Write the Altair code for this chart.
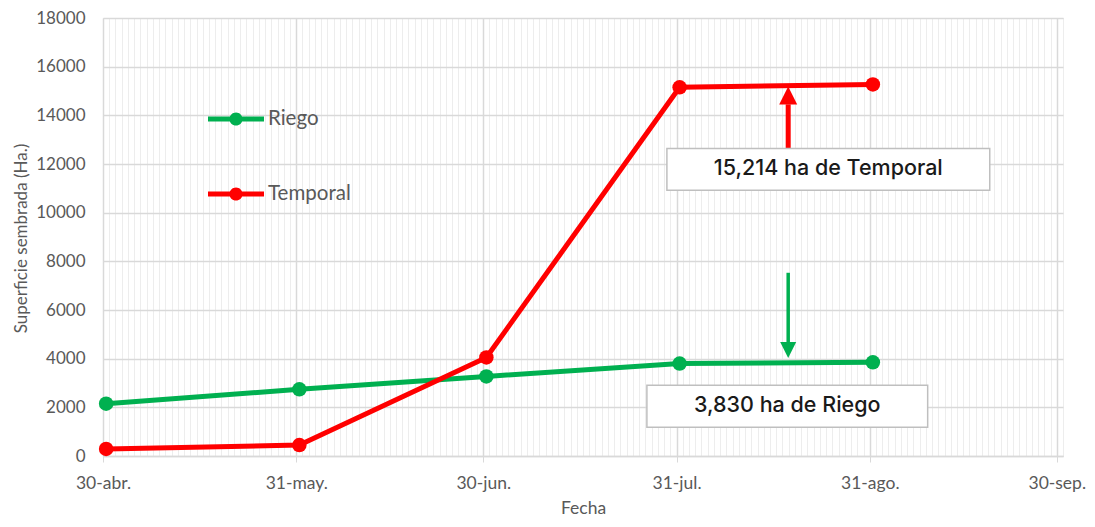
import altair as alt
import pandas as pd

# ---- data ----
FECHAS = ["2021-04-30", "2021-05-31", "2021-06-30", "2021-07-31", "2021-08-31"]
RIEGO = [2150, 2740, 3270, 3800, 3850]
TEMPORAL = [290, 450, 4050, 15150, 15270]
SERIES = ["Riego", "Temporal"]
COLORES = ["#00b050", "#ff0000"]

TICK_FECHAS = ["2021-04-30", "2021-05-31", "2021-06-30", "2021-07-31", "2021-08-31", "2021-09-30"]
MESES = ["ene.", "feb.", "mar.", "abr.", "may.", "jun.", "jul.", "ago.", "sep.", "oct.", "nov.", "dic."]
Y_TICKS = [0, 2000, 4000, 6000, 8000, 10000, 12000, 14000, 16000, 18000]

# annotations (data units)
ANOT_TEXTO = ["15,214 ha de Temporal", "3,830 ha de Riego"]
ANOT_SERIE = ["Temporal", "Riego"]
CAJA_X1 = ["2021-07-29T11:00:00", "2021-07-26T06:00:00"]
CAJA_X2 = ["2021-09-19T06:00:00", "2021-09-09T07:00:00"]
CAJA_Y1 = [12641, 2905]
CAJA_Y2 = [10923, 1186]
FLECHA_X = "2021-08-17T22:00:00"
FLECHA_BASE = [12641, 7530]
FLECHA_CUELLO = [14450, 4650]
FLECHA_PUNTA = [15180, 4030]

GRAY_TXT = "#595959"
GRID = "#d9d9d9"

# ---- tables ----
fechas_mid = [f + "T12:00:00" for f in FECHAS]
df = pd.DataFrame({
    "fecha": fechas_mid * 2,
    "valor": RIEGO + TEMPORAL,
    "serie": [SERIES[0]] * len(FECHAS) + [SERIES[1]] * len(FECHAS),
})

cajas = pd.DataFrame({
    "x1": CAJA_X1, "x2": CAJA_X2, "y1": CAJA_Y1, "y2": CAJA_Y2, "texto": ANOT_TEXTO,
})
cajas["xm"] = (pd.to_datetime(cajas["x1"]) + (pd.to_datetime(cajas["x2"]) - pd.to_datetime(cajas["x1"])) / 2).dt.strftime("%Y-%m-%dT%H:%M:%S")
cajas["ym"] = (cajas["y1"] + cajas["y2"]) / 2

flechas = pd.DataFrame({
    "x": [FLECHA_X] * 2, "base": FLECHA_BASE, "cuello": FLECHA_CUELLO,
    "punta": FLECHA_PUNTA, "serie": ANOT_SERIE,
})

# ---- scales / axes ----
x_scale = alt.Scale(domain=[alt.DateTime(year=2021, month=4, date=30),
                            alt.DateTime(year=2021, month=10, date=1)], nice=False)
y_scale = alt.Scale(domain=[0, 18000], nice=False)
color_scale = alt.Scale(domain=SERIES, range=COLORES)

is_major = "indexof([" + ",".join(f"'{d}'" for d in TICK_FECHAS) + "], timeFormat(datum.value, '%Y-%m-%d')) >= 0"

x_axis = alt.Axis(
    tickCount={"interval": "day", "step": 1},
    labelExpr=f"({is_major}) ? date(datum.value) + '-' + {MESES}[month(datum.value)] : ''",
    labelOverlap=False, labelFlush=False,
    labelFont="Lato", labelFontSize=17.5, labelColor=GRAY_TXT, labelPadding=12,
    grid=True,
    gridColor={"condition": {"test": is_major, "value": GRID}, "value": "#ededed"},
    gridWidth={"condition": {"test": is_major, "value": 1.5}, "value": 1},
    ticks=True, tickSize=6, tickColor=GRID,
    tickOpacity={"condition": {"test": is_major, "value": 1}, "value": 0},
    domain=True, domainColor=GRID, domainWidth=1.5,
    title="Fecha", titleFont="Lato", titleFontSize=17.5, titleFontWeight="normal",
    titleColor=GRAY_TXT, titleY=52, titleBaseline="middle",
)
y_axis = alt.Axis(
    values=Y_TICKS, format="d", grid=True, gridColor=GRID, gridWidth=1.5,
    domain=False, ticks=False, labelPadding=18,
    labelFont="Lato", labelFontSize=17, labelColor=GRAY_TXT,
    title="Superficie sembrada (Ha.)", titleFont="Lato", titleFontSize=17,
    titleFontWeight="normal", titleColor=GRAY_TXT,
    titleX=-82, titleY=220, titleAngle=270, titleAlign="center", titleBaseline="middle",
)

LEG_PATH = ("M-1.75,-0.16H1.75V0.16H-1.75Z "
            "M0,-0.41A0.41,0.41 0 1,1 0,0.41A0.41,0.41 0 1,1 0,-0.41Z")
legend = alt.Legend(
    orient="none", legendX=117, legendY=85, title=None, padding=0,
    direction="vertical", symbolType=LEG_PATH, symbolSize=1024,
    symbolStrokeWidth=0, symbolOpacity=1, labelOffset=16, rowPadding=48,
    labelFont="Lato", labelFontSize=20.5, labelColor=GRAY_TXT,
)


def X(field):
    return alt.X(field, scale=x_scale, axis=x_axis)


def Y(field):
    return alt.Y(field, scale=y_scale, axis=y_axis)


base = alt.Chart(df)

lines = base.mark_line(strokeWidth=5).encode(
    x=X("fecha:T"), y=Y("valor:Q"),
    color=alt.Color("serie:N", scale=color_scale, legend=legend),
)

points = base.mark_circle(size=210, opacity=1).encode(
    x=X("fecha:T"), y=Y("valor:Q"),
    color=alt.Color("serie:N", scale=color_scale, legend=legend),
)

fl = alt.Chart(flechas)
shaft_red = fl.transform_filter("datum.serie == 'Temporal'").mark_rule(
    strokeWidth=5, color=COLORES[1]).encode(x=X("x:T"), y=Y("base:Q"), y2="cuello:Q")
shaft_green = fl.transform_filter("datum.serie == 'Riego'").mark_rule(
    strokeWidth=3.5, color=COLORES[0]).encode(x=X("x:T"), y=Y("base:Q"), y2="cuello:Q")
head_red = fl.transform_filter("datum.serie == 'Temporal'").mark_point(
    shape="M0,0L1,2L-1,2Z", size=324, filled=True, opacity=1, color=COLORES[1]).encode(
    x=X("x:T"), y=Y("punta:Q"))
head_green = fl.transform_filter("datum.serie == 'Riego'").mark_point(
    shape="M0,0L1,-2L-1,-2Z", size=256, filled=True, opacity=1, color=COLORES[0]).encode(
    x=X("x:T"), y=Y("punta:Q"))

cj = alt.Chart(cajas)
boxes = cj.mark_rect(fill="white", stroke="#bfbfbf", strokeWidth=1.5).encode(
    x=X("x1:T"), x2="x2:T", y=Y("y1:Q"), y2="y2:Q")
texts = cj.mark_text(font="Inter", fontSize=21.5, fontWeight=500, color="#1a1a1a",
                     align="center", baseline="middle").encode(
    x=X("xm:T"), y=Y("ym:Q"), text="texto:N")

chart = alt.layer(
    lines, points, shaft_red, shaft_green, head_red, head_green, boxes, texts
).properties(
    width=960, height=438,
    autosize=alt.AutoSizeParams(type="none"),
    padding={"left": 95, "top": 10, "right": 24, "bottom": 63},
).configure_view(stroke=None).configure(background="white")

chart.save("out.html", embed_options={"renderer": "svg", "actions": False})
